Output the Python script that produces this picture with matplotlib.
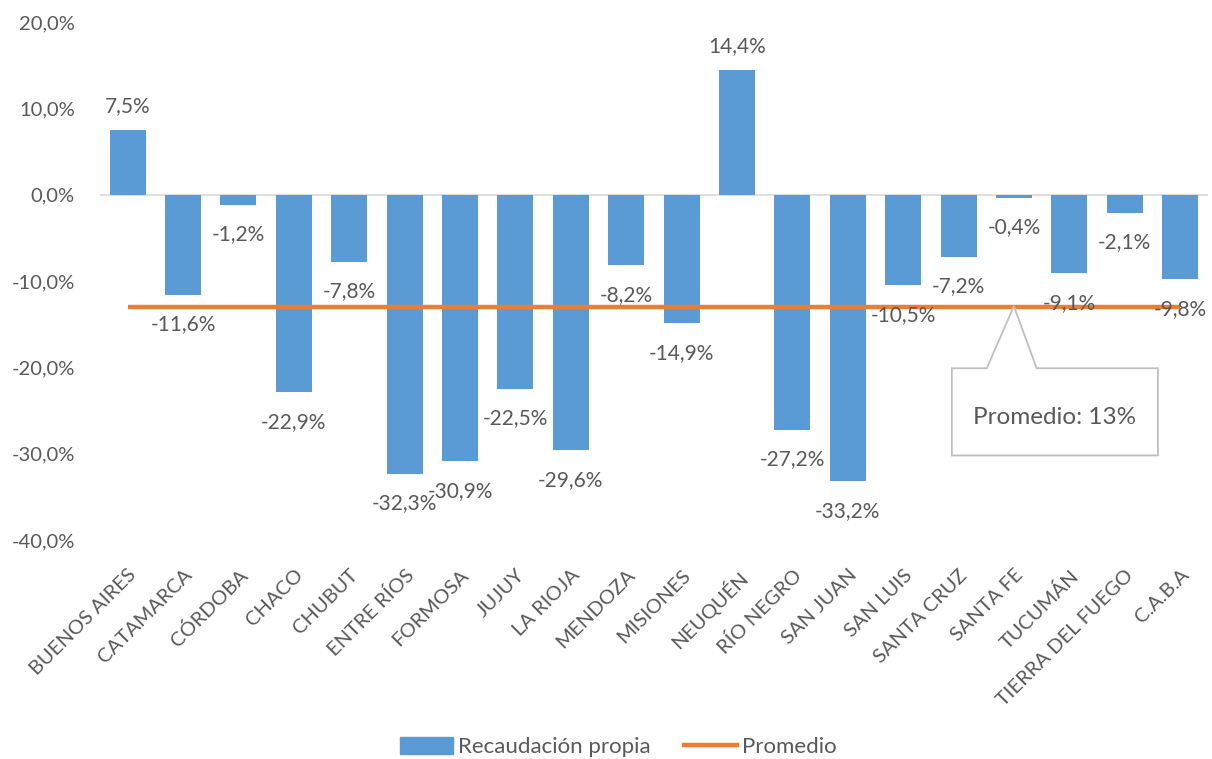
import matplotlib
matplotlib.use("Agg")
import matplotlib.pyplot as plt
from matplotlib.patches import Polygon
from matplotlib.lines import Line2D
from matplotlib.patches import Patch

plt.rcParams['font.family'] = ['Lato', 'DejaVu Sans']

# datos
provincias = ["BUENOS AIRES", "CATAMARCA", "CÓRDOBA", "CHACO", "CHUBUT",
              "ENTRE RÍOS", "FORMOSA", "JUJUY", "LA RIOJA", "MENDOZA",
              "MISIONES", "NEUQUÉN", "RÍO NEGRO", "SAN JUAN", "SAN LUIS",
              "SANTA CRUZ", "SANTA FE", "TUCUMÁN", "TIERRA DEL FUEGO", "C.A.B.A"]
recaudacion = [7.5, -11.6, -1.2, -22.9, -7.8, -32.3, -30.9, -22.5, -29.6, -8.2,
               -14.9, 14.4, -27.2, -33.2, -10.5, -7.2, -0.4, -9.1, -2.1, -9.8]
promedio = -13.0
yticks = [20, 10, 0, -10, -20, -30, -40]

gris = '#595959'
azul = '#5B9BD5'
naranja = '#ED7D31'

fig = plt.figure(figsize=(12.12, 7.59), dpi=100)
ax = fig.add_axes([0.0825, 0.2885, 0.914, 0.6825])

x = list(range(len(provincias)))
ax.bar(x, recaudacion, width=0.65, color=azul, zorder=2)
ax.plot(x, [promedio] * len(x), color=naranja, lw=3.2, zorder=3,
        solid_capstyle='butt')
ax.axhline(0, color='#D9D9D9', lw=1.2, zorder=1)

# etiquetas de datos
for xi, v in zip(x, recaudacion):
    txt = f"{v:.1f}%".replace('.', ',')
    if v >= 0:
        ax.annotate(txt, (xi, v), xytext=(0, 10), textcoords='offset points',
                    ha='center', va='bottom', fontsize=15, color=gris, zorder=4)
    else:
        ax.annotate(txt, (xi, v), xytext=(0, -14), textcoords='offset points',
                    ha='center', va='top', fontsize=15, color=gris, zorder=4)

ax.set_xlim(-0.5, len(x) - 0.5)
ax.set_ylim(-40, 20)
ax.set_yticks(yticks)
ax.set_yticklabels([f"{t:.1f}%".replace('.', ',') for t in yticks])
ax.set_xticks(x)
ax.set_xticklabels(provincias, rotation=45, ha='right', va='top',
                   rotation_mode='anchor')
ax.tick_params(axis='both', length=0, colors=gris)
ax.tick_params(axis='y', pad=18, labelsize=14.5)
ax.tick_params(axis='x', pad=19, labelsize=14.5)
for s in ax.spines.values():
    s.set_visible(False)

# llamada "Promedio"
callout = Polygon([(14.88, -20.1), (15.51, -20.1), (16.0, -12.9), (16.41, -20.1),
                   (18.6, -20.1), (18.6, -30.2), (14.88, -30.2)],
                  closed=True, facecolor='white', edgecolor='#BFBFBF', lw=1.3,
                  zorder=5)
ax.add_patch(callout)
ax.text(16.74, -25.8, "Promedio: 13%", ha='center', va='center',
        fontsize=17.5, color=gris, zorder=6)

handles = [Patch(color=azul, label='Recaudación propia'),
           Line2D([], [], color=naranja, lw=3.2, label='Promedio')]
fig.legend(handles=handles, loc='center', bbox_to_anchor=(0.51, 0.016),
           ncol=2, frameon=False, fontsize=16, labelcolor=gris,
           handlelength=2.4, handleheight=0.8, handletextpad=0.2,
           columnspacing=1.5)

fig.savefig('out.png', dpi=100, facecolor='white')
